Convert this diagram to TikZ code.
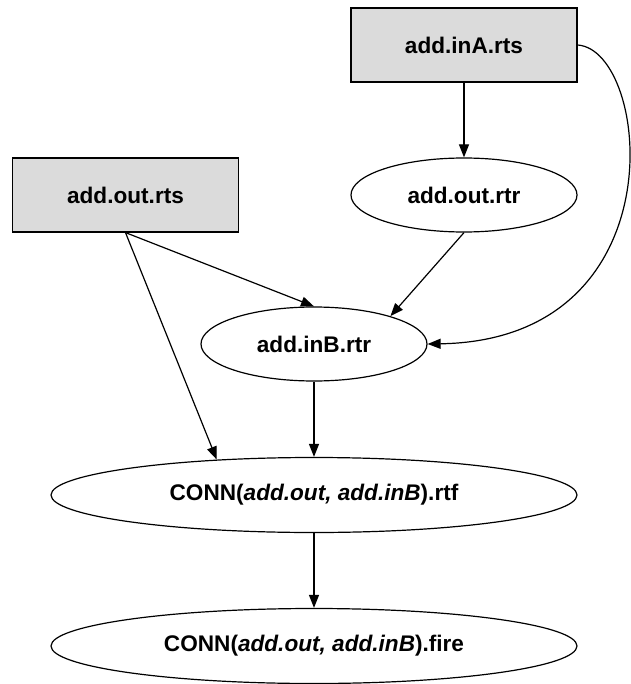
\documentclass[tikz,border=0pt]{standalone}
\usepackage{fontspec}
\setmainfont{Liberation Sans}
\usetikzlibrary{arrows.meta,shapes.geometric}
\begin{document}
\begin{tikzpicture}[x=1pt, y=-1pt, line width=1.2pt,
    box/.style={rectangle, draw, minimum width=226pt, minimum height=74pt, inner sep=0pt, fill=black!14},
    oval/.style={ellipse, draw, minimum width=226pt, minimum height=74pt, inner sep=0pt},
    wide/.style={oval, minimum width=526pt, minimum height=75pt},
    arrow/.style={->, >={Triangle[length=13pt, width=10pt]}},
    every node/.style={font=\fontsize{22.6}{27}\selectfont\bfseries}]
    \useasboundingbox (0,0) rectangle (630,684);

    % nodes
    \node[box] (inArts) at (464, 45) {add.inA.rts};
    \node[box] (outrts) at (125.5, 195) {add.out.rts};
    \node[oval] (outrtr) at (464, 195) {add.out.rtr};
    \node[oval] (inBrtr) at (314, 344) {add.inB.rtr};
    \node[wide] (rtf) at (314, 495) {CONN(\textit{add.out, add.inB}).rtf};
    \node[wide] (fire) at (314, 646) {CONN(\textit{add.out, add.inB}).fire};

    % edges
    \draw[arrow] (inArts) -- (outrtr);
    \draw[arrow] (inArts.east) .. controls +(73,5) and +(253,-4) .. (inBrtr.east);
    \draw[arrow] (outrts.south) -- (inBrtr.north);
    \draw[arrow] (outrts.south) -- (rtf.160);
    \draw[arrow] (outrtr.south) -- (inBrtr.20);
    \draw[arrow] (inBrtr) -- (rtf);
    \draw[arrow] (rtf) -- (fire);
\end{tikzpicture}
\end{document}
